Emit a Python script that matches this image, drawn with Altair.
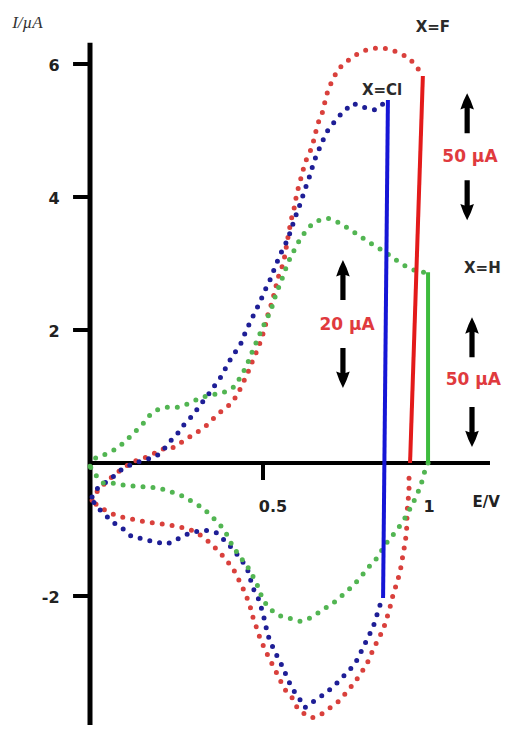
import altair as alt
import pandas as pd

# ---------------- data (E in V, I in µA) ----------------
series_names = ["X=F", "X=Cl", "X=H"]
dot_colors = ["#d9403c", "#1e1e96", "#52b552"]

# X=F (red) anodic / cathodic branches
red_up_E = [0.006, 0.023, 0.052, 0.087, 0.124, 0.159, 0.179, 0.202, 0.246, 0.275, 0.303, 0.332, 0.355, 0.384,
            0.410, 0.428, 0.442, 0.457, 0.471, 0.486, 0.497, 0.506, 0.514, 0.526, 0.535, 0.543, 0.555, 0.564,
            0.569, 0.575, 0.581, 0.590, 0.598, 0.607, 0.616, 0.627, 0.642, 0.650, 0.659, 0.671, 0.679, 0.688,
            0.702, 0.717, 0.740, 0.763, 0.792, 0.827, 0.858, 0.893, 0.922, 0.945, 0.962]
red_up_I = [-0.56, -0.41, -0.26, -0.11, 0.02, 0.08, 0.12, 0.20, 0.24, 0.35, 0.44, 0.54, 0.66, 0.80,
            0.90, 1.05, 1.20, 1.37, 1.55, 1.73, 1.89, 2.05, 2.23, 2.42, 2.60, 2.78, 2.95, 3.13,
            3.31, 3.47, 3.65, 3.83, 4.06, 4.23, 4.41, 4.59, 4.75, 4.93, 5.11, 5.26, 5.43, 5.61,
            5.77, 5.92, 6.03, 6.12, 6.20, 6.24, 6.23, 6.17, 6.09, 5.95, 5.82]
red_down_E = [0.922, 0.922, 0.919, 0.916, 0.916, 0.913, 0.908, 0.902, 0.896, 0.887, 0.876, 0.867, 0.858,
              0.847, 0.832, 0.818, 0.803, 0.786, 0.766, 0.743, 0.717, 0.694, 0.665, 0.642, 0.616, 0.598,
              0.584, 0.564, 0.549, 0.535, 0.520, 0.506, 0.491, 0.471, 0.462, 0.448, 0.434, 0.419, 0.399,
              0.376, 0.353, 0.327, 0.298, 0.260, 0.217, 0.179, 0.145, 0.110, 0.078, 0.043, 0.017, 0.006]
red_down_I = [-0.23, -0.41, -0.59, -0.75, -0.93, -1.11, -1.28, -1.46, -1.64, -1.80, -1.98, -2.17, -2.33,
              -2.51, -2.66, -2.81, -2.99, -3.14, -3.29, -3.44, -3.59, -3.68, -3.79, -3.83, -3.76, -3.67,
              -3.53, -3.41, -3.26, -3.11, -2.96, -2.81, -2.63, -2.32, -2.14, -1.95, -1.80, -1.64, -1.49,
              -1.35, -1.23, -1.11, -1.02, -0.96, -0.92, -0.90, -0.87, -0.83, -0.80, -0.71, -0.62, -0.56]

# X=Cl (blue)
blue_up_E = [0.006, 0.020, 0.038, 0.066, 0.095, 0.130, 0.159, 0.188, 0.208, 0.231, 0.254, 0.275, 0.298,
             0.318, 0.341, 0.361, 0.382, 0.396, 0.413, 0.434, 0.448, 0.462, 0.477, 0.491, 0.506, 0.520,
             0.535, 0.549, 0.564, 0.578, 0.592, 0.607, 0.621, 0.636, 0.647, 0.659, 0.671, 0.688, 0.708,
             0.731, 0.760, 0.789, 0.824, 0.855]
blue_up_I = [-0.51, -0.39, -0.32, -0.21, -0.08, 0.00, 0.05, 0.09, 0.17, 0.32, 0.45, 0.60, 0.72,
             0.87, 1.02, 1.17, 1.32, 1.47, 1.62, 1.77, 1.95, 2.11, 2.27, 2.42, 2.60, 2.75,
             2.95, 3.13, 3.28, 3.46, 3.68, 3.89, 4.11, 4.33, 4.53, 4.68, 4.83, 5.01, 5.14,
             5.28, 5.41, 5.35, 5.31, 5.43]
blue_down_E = [0.838, 0.829, 0.818, 0.803, 0.786, 0.772, 0.751, 0.728, 0.702, 0.673, 0.645, 0.621, 0.607,
               0.587, 0.572, 0.558, 0.543, 0.529, 0.514, 0.500, 0.486, 0.471, 0.454, 0.434, 0.410, 0.390,
               0.367, 0.332, 0.289, 0.254, 0.223, 0.188, 0.153, 0.121, 0.095, 0.066, 0.038, 0.014, 0.006]
blue_down_I = [-2.14, -2.29, -2.47, -2.63, -2.81, -2.96, -3.11, -3.23, -3.37, -3.49, -3.59, -3.68, -3.56,
               -3.41, -3.26, -3.08, -2.93, -2.78, -2.59, -2.26, -2.03, -1.88, -1.58, -1.43, -1.28, -1.17,
               -1.05, -1.01, -1.05, -1.14, -1.22, -1.19, -1.14, -1.11, -0.99, -0.89, -0.75, -0.63, -0.51]

# X=H (green)
green_up_E = [0.000, 0.017, 0.049, 0.075, 0.101, 0.124, 0.150, 0.173, 0.194, 0.223, 0.257, 0.289, 0.318,
              0.347, 0.382, 0.413, 0.439, 0.457, 0.471, 0.486, 0.500, 0.514, 0.526, 0.535, 0.546, 0.558,
              0.572, 0.587, 0.601, 0.621, 0.636, 0.656, 0.688, 0.717, 0.746, 0.775, 0.806, 0.835, 0.864,
              0.893, 0.922, 0.954, 0.977]
green_up_I = [-0.05, 0.08, 0.14, 0.21, 0.32, 0.44, 0.57, 0.72, 0.80, 0.84, 0.84, 0.90, 0.98,
              1.02, 1.05, 1.13, 1.32, 1.52, 1.70, 1.88, 2.05, 2.20, 2.35, 2.50, 2.65, 2.81,
              3.01, 3.17, 3.31, 3.47, 3.56, 3.64, 3.68, 3.62, 3.53, 3.43, 3.32, 3.23, 3.13,
              3.02, 2.93, 2.87, 2.87]
green_down_E = [0.977, 0.968, 0.962, 0.948, 0.931, 0.910, 0.887, 0.861, 0.829, 0.803, 0.780, 0.757, 0.731,
                0.702, 0.671, 0.642, 0.607, 0.572, 0.543, 0.514, 0.497, 0.483, 0.462, 0.434, 0.413, 0.396,
                0.376, 0.353, 0.327, 0.298, 0.269, 0.237, 0.202, 0.165, 0.130, 0.092, 0.064, 0.038, 0.014, 0.000]
green_down_I = [0.00, -0.11, -0.24, -0.44, -0.63, -0.83, -1.01, -1.17, -1.43, -1.58, -1.73, -1.86, -1.98,
                -2.11, -2.21, -2.32, -2.38, -2.33, -2.29, -2.17, -2.02, -1.83, -1.61, -1.41, -1.26, -1.08,
                -0.93, -0.81, -0.68, -0.59, -0.50, -0.44, -0.38, -0.36, -0.35, -0.33, -0.30, -0.30, -0.17, -0.05]

# vertical scale-bar lines at the switching potential
bar_names = ["X=F bar", "X=Cl bar", "X=H bar"]
bar_colors = ["#e31b1b", "#1515d6", "#3dbb3d"]
bar_E_top = [0.962, 0.861, 0.977]
bar_I_top = [5.82, 5.46, 2.87]
bar_E_bot = [0.925, 0.847, 0.977]
bar_I_bot = [0.00, -2.03, 0.00]

# axes
y_tick_values = [6, 4, 2, -2]
y_tick_labels = ["6", "4", "2", "-2"]
x_tick_values = [0.5]
x_label_values = [0.5, 1.0]
x_label_texts = ["0.5", "1"]

# annotations
name_texts = ["X=F", "X=Cl", "X=H"]
name_E = [0.991, 0.844, 1.134]
name_I = [6.56, 5.61, 2.93]
scale_texts = ["50 µA", "20 µA", "50 µA"]
scale_E = [1.098, 0.743, 1.108]
scale_I = [4.60, 2.08, 1.25]
arrow_E = [1.090, 1.090, 0.731, 0.731, 1.104, 1.104]
arrow_I = [5.26, 3.95, 2.75, 1.43, 1.89, 0.54]
arrow_dir = ["up", "down", "up", "down", "up", "down"]

# ---------------- tables ----------------
rows = []
def add(series, branch, Es, Is):
    assert len(Es) == len(Is), (series, branch)
    for k, (e, i) in enumerate(zip(Es, Is)):
        rows.append({"series": series, "seg": series + branch, "k": k, "E": e, "I": i})

add("X=F", "up", red_up_E, red_up_I)
add("X=F", "down", red_down_E, red_down_I)
add("X=Cl", "up", blue_up_E, blue_up_I)
add("X=Cl", "down", blue_down_E, blue_down_I)
add("X=H", "up", green_up_E, green_up_I)
add("X=H", "down", green_down_E, green_down_I)
curves = pd.DataFrame(rows)

bars = pd.DataFrame({"bar": bar_names, "E": bar_E_top, "I": bar_I_top, "E2": bar_E_bot, "I2": bar_I_bot})

xs = alt.Scale(domain=[-0.237, 1.1936], nice=False, zero=False)
ys = alt.Scale(domain=[-3.940, 6.842], nice=False, zero=False)

def X(f="E"):
    return alt.X(f + ":Q", scale=xs, axis=None)

def Y(f="I"):
    return alt.Y(f + ":Q", scale=ys, axis=None)

AX = "#000000"
LBL = "#222222"
FONT = "DejaVu Sans"

# axis lines
y_axis = alt.Chart(pd.DataFrame({"E": [0.0], "I": [6.32], "I2": [-3.94]})).mark_rule(
    color=AX, strokeWidth=5).encode(x=X(), y=Y(), y2="I2:Q")
x_axis = alt.Chart(pd.DataFrame({"E": [0.0], "E2": [1.156], "I": [0.0]})).mark_rule(
    color=AX, strokeWidth=4).encode(x=X(), x2="E2:Q", y=Y())
y_ticks = alt.Chart(pd.DataFrame({"I": y_tick_values, "E": [-0.049] * 4, "E2": [0.0] * 4})).mark_rule(
    color=AX, strokeWidth=4).encode(x=X(), x2="E2:Q", y=Y())
x_ticks = alt.Chart(pd.DataFrame({"E": x_tick_values, "I": [0.0], "I2": [-0.256]})).mark_rule(
    color=AX, strokeWidth=4).encode(x=X(), y=Y(), y2="I2:Q")

y_labels = alt.Chart(pd.DataFrame({"I": y_tick_values, "t": y_tick_labels, "E": [-0.088] * 4})).mark_text(
    align="right", baseline="middle", font=FONT, fontWeight="bold", fontSize=16, color=LBL, dy=2
).encode(x=X(), y=Y(), text="t:N")
x_lab1 = alt.Chart(pd.DataFrame({"E": [x_label_values[0]], "I": [-0.66], "t": [x_label_texts[0]]})).mark_text(
    align="center", baseline="middle", font=FONT, fontWeight="bold", fontSize=16, color=LBL, dx=10
).encode(x=X(), y=Y(), text="t:N")
x_lab2 = alt.Chart(pd.DataFrame({"E": [x_label_values[1]], "I": [-0.66], "t": [x_label_texts[1]]})).mark_text(
    align="center", baseline="middle", font=FONT, fontWeight="bold", fontSize=16, color=LBL, dx=-7
).encode(x=X(), y=Y(), text="t:N")
x_title = alt.Chart(pd.DataFrame({"E": [1.145], "I": [-0.59], "t": ["E/V"]})).mark_text(
    align="center", baseline="middle", font=FONT, fontWeight="bold", fontSize=15, color=LBL
).encode(x=X(), y=Y(), text="t:N")
y_title = alt.Chart(pd.DataFrame({"E": [-0.225], "I": [6.62], "t": ["I/µA"]})).mark_text(
    align="left", baseline="middle", font="Liberation Serif", fontStyle="italic", fontSize=17, color="#333333"
).encode(x=X(), y=Y(), text="t:N")

dots = alt.Chart(curves).mark_line(
    strokeWidth=5, strokeDash=[0, 10], strokeCap="round", interpolate="linear"
).encode(
    x=X(), y=Y(),
    color=alt.Color("series:N", scale=alt.Scale(domain=series_names, range=dot_colors), legend=None),
    detail="seg:N",
    order="k:Q",
)

bar_lines = alt.Chart(bars).mark_rule(strokeWidth=4).encode(
    x=X(), y=Y(), x2="E2:Q", y2="I2:Q",
    color=alt.Color("bar:N", scale=alt.Scale(domain=bar_names, range=bar_colors), legend=None),
)

arrows = pd.DataFrame({"E": arrow_E, "I": arrow_I, "d": arrow_dir})
UP = ("M0,-1 L0.18,-0.62 L0.34,-0.18 L0.13,-0.26 L0.13,1 L-0.13,1 L-0.13,-0.26 "
      "L-0.34,-0.18 L-0.18,-0.62 Z")
DOWN = ("M0,1 L0.18,0.62 L0.34,0.18 L0.13,0.26 L0.13,-1 L-0.13,-1 L-0.13,0.26 "
        "L-0.34,0.18 L-0.18,0.62 Z")
up_arrows = alt.Chart(arrows).transform_filter(alt.datum.d == "up").mark_point(
    shape=UP, size=1600, filled=True, color="#000000", opacity=1, strokeWidth=0
).encode(x=X(), y=Y())
down_arrows = alt.Chart(arrows).transform_filter(alt.datum.d == "down").mark_point(
    shape=DOWN, size=1600, filled=True, color="#000000", opacity=1, strokeWidth=0
).encode(x=X(), y=Y())

names = alt.Chart(pd.DataFrame({"E": name_E, "I": name_I, "t": name_texts})).mark_text(
    align="center", baseline="middle", font=FONT, fontWeight="bold", fontSize=15, color="#2a2a2a"
).encode(x=X(), y=Y(), text="t:N")
scales_txt = alt.Chart(pd.DataFrame({"E": scale_E, "I": scale_I, "t": scale_texts})).mark_text(
    align="center", baseline="middle", font=FONT, fontWeight="bold", fontSize=17, color="#e03a3e"
).encode(x=X(), y=Y(), text="t:N")

chart = alt.layer(
    y_axis, x_axis, y_ticks, x_ticks, y_labels, x_lab1, x_lab2, x_title, y_title,
    dots, bar_lines, up_arrows, down_arrows, names, scales_txt,
).resolve_scale(color="independent").properties(
    width=495, height=717, autosize=alt.AutoSizeParams(type="none"), padding=0,
).configure_view(stroke=None)

chart.save("out.html", embed_options={"renderer": "svg", "actions": False})
